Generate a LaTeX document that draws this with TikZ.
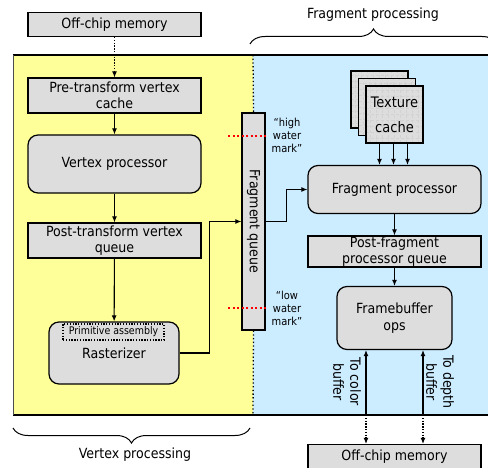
\documentclass[tikz,border=0pt]{standalone}
\usepackage{fontspec}
\setmainfont{DejaVu Sans Condensed}
\usetikzlibrary{decorations.pathreplacing,arrows.meta}
\definecolor{vtxyellow}{RGB}{255,255,153}
\definecolor{fragblue}{RGB}{204,236,255}
\definecolor{boxgray}{RGB}{221,221,221}
\tikzset{
  stage/.style={draw, line width=1.2pt, fill=boxgray, inner sep=0pt, align=center,
    font=\fontsize{14}{16.5}\selectfont},
  unit/.style={stage, rounded corners=10pt},
  texbox/.style={stage, minimum size=57pt,
    path picture={\draw[gray!35, densely dashed, line width=0.25pt, step=6pt]
      (path picture bounding box.south west) grid (path picture bounding box.north east);}},
  flow/.style={-{Latex[length=6pt,width=5pt]}, line width=1.1pt},
  dotarrow/.style={flow, dash pattern=on 1.3pt off 1.5pt},
  redmark/.style={red, line width=1.8pt, dash pattern=on 2pt off 2.5pt},
  mark label/.style={align=center, font=\fontsize{11}{13}\selectfont},
  side label/.style={rotate=-90, align=center, font=\fontsize{14}{17}\selectfont}
}
\begin{document}
\begin{tikzpicture}[x=1pt,y=-1pt]
\useasboundingbox (0,0) rectangle (488,468);
% the two halves of the pipeline
\fill[vtxyellow] (13,55) rectangle (253,415);
\fill[fragblue] (253,55) rectangle (488,415);
\draw[line width=1.5pt] (13,55) -- (488,55);
\draw[line width=1.1pt] (488,415) -- (13,415);
\draw[line width=0.8pt, black!70] (13,55) -- (13,415);
% vertex side
\node[stage, minimum width=173pt, minimum height=24pt] (memtop) at (114.5,24.5) {Off-chip memory};
\node[stage, minimum width=173pt, minimum height=35pt] (precache) at (114.5,95.5) {Pre-transform vertex\\cache};
\node[unit, minimum width=173pt, minimum height=58pt] (vproc) at (114.5,164) {Vertex processor};
\node[stage, minimum width=173pt, minimum height=35pt] (postq) at (114.5,240.5) {Post-transform vertex\\queue};
\node[unit, minimum width=130pt, minimum height=62pt] (raster) at (114,353) {Rasterizer};
\node[draw, line width=1.1pt, dash pattern=on 1.3pt off 1.5pt, inner sep=0pt, minimum width=101pt, minimum height=16pt,
  font=\fontsize{10.5}{12}\selectfont] (prim) at (113.5,332) {Primitive assembly};
% the queue between both halves
\node[stage, minimum width=23pt, minimum height=217pt] (fragq) at (253.5,221.5) {};
\node[side label] (fragqlbl) at (fragq) {Fragment queue};
\draw[line width=1.3pt, dash pattern=on 1.3pt off 2.4pt] (253,55) -- (fragq.north);
\draw[line width=1.3pt, dash pattern=on 1.3pt off 2.4pt] (fragq.south) -- (253,415);
\draw[redmark] (228,136) -- (268,136); % edit here for the high mark
\draw[redmark] (228,308) -- (268,308); % edit here for the low mark
\node[mark label] (highlbl) at (287,135) {“high\\water\\mark”};
\node[mark label] (lowlbl) at (287,308) {“low\\water\\mark”};
% fragment side
\foreach \nm/\d in {texa/0, texb/7.5, tex/15}
\node[texbox] (\nm) at (379.5+\d,99.5+\d) {};
\node[align=center, font=\fontsize{14.5}{16}\selectfont] (texlbl) at (tex) {Texture\\[9pt]cache};
\node[unit, minimum width=173pt, minimum height=48pt] (fproc) at (394.5,189.5) {Fragment processor};
\node[stage, minimum width=173pt, minimum height=31pt] (pfq) at (394.5,251.5) {Post-fragment\\processor queue};
\node[unit, minimum width=115pt, minimum height=63pt] (fbops) at (394.5,318) {Framebuffer\\ops};
\node[stage, minimum width=173pt, minimum height=24pt] (membot) at (394.5,456.5) {Off-chip memory};
\coordinate (cbuf) at (366,415);
\coordinate (dbuf) at (423,415);
\node[side label] (cbuflbl) at (347,382) {To color\\buffer};
\node[side label] (dbuflbl) at (440,382) {To depth\\buffer};
% connectors
\draw[dotarrow] (memtop) -- (precache);
\draw[flow] (precache) -- (vproc);
\draw[flow] (vproc) -- (postq);
\draw[flow] (postq) -- (raster);
\draw[flow] (raster.east) -| ([xshift=-32pt]fragq.west) -- (fragq.west);
\draw[flow] (fragq.east) -- ++(21,0) |- (fproc.west);
\foreach \dx in {-15,-1,13} % edit here for the texture fetches
\draw[flow] ([xshift=\dx pt]tex.south) -- ([xshift=\dx pt]tex.south |- fproc.north);
\draw[flow] (fproc) -- (pfq);
\draw[flow] (pfq) -- (fbops);
\foreach \c in {cbuf, dbuf}{
\draw[flow] (\c) -- (\c |- fbops.south);
\draw[dotarrow] (\c) -- (\c |- membot.north);
}
% braces
\draw[decorate, decoration={brace, amplitude=15pt}, line width=1pt] (250,44) -- (497,44);
\node[font=\fontsize{14}{16}\selectfont] (fraghead) at (373,15) {Fragment processing};
\draw[decorate, decoration={brace, amplitude=15pt}, line width=1pt] (250,428) -- (13,428);
\node[font=\fontsize{14}{16}\selectfont] (vtxhead) at (135,455) {Vertex processing};
\end{tikzpicture}
\end{document}
